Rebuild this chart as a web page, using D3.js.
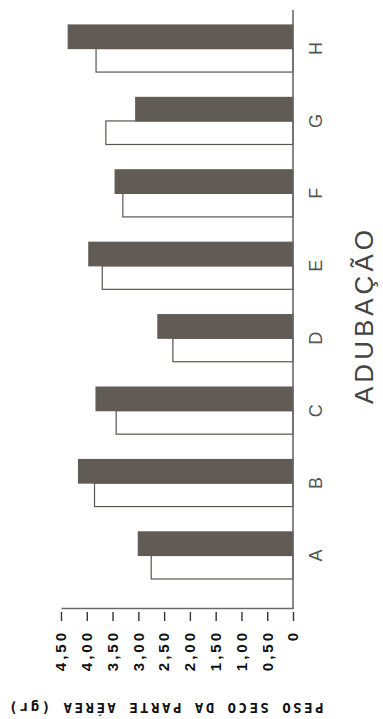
<!DOCTYPE html>
<html>
<head>
<meta charset="utf-8">
<script src="https://cdn.jsdelivr.net/npm/d3@7"></script>
<style>
  body { margin: 0; background: #fff; }
  svg { display: block; }
</style>
</head>
<body>
<div id="chart"></div>
<script>
const categorias = ["A", "B", "C", "D", "E", "F", "G", "H"];
const series = ["branco", "escuro"];
const branco = [2.75, 3.85, 3.43, 2.33, 3.70, 3.30, 3.63, 3.82];
const escuro = [3.00, 4.16, 3.82, 2.62, 3.96, 3.45, 3.05, 4.36];
const valorTicks = [0, 0.5, 1, 1.5, 2, 2.5, 3, 3.5, 4, 4.5];

const W = 383, H = 719;

const svg = d3.select("#chart").append("svg")
    .attr("width", W)
    .attr("height", H);

// the figure is an ordinary column chart turned a quarter round
const g = svg.append("g")
    .attr("transform", `translate(0,${H}) rotate(-90)`);

const x = d3.scaleBand()
    .domain(categorias)
    .range([140, 694])
    .paddingInner(0.35)
    .paddingOuter(0);

const xSub = d3.scaleBand()
    .domain(series)
    .range([0, x.bandwidth()]);

const y = d3.scaleLinear()
    .domain([0, 4.5])
    .range([293, 61]);

const rows = categorias.map((c, i) => ({ cat: c, branco: branco[i], escuro: escuro[i] }));

// bars
const grp = g.selectAll(".grp")
    .data(rows)
    .enter().append("g")
    .attr("class", "grp")
    .attr("transform", d => `translate(${x(d.cat)},0)`);

grp.selectAll("rect")
    .data(d => series.map(s => ({ s: s, v: d[s] })))
    .enter().append("rect")
    .attr("x", d => xSub(d.s))
    .attr("width", xSub.bandwidth())
    .attr("y", d => y(d.v))
    .attr("height", d => y(0) - y(d.v))
    .attr("fill", d => d.s === "escuro" ? "#605b55" : "#fff")
    .attr("stroke", d => d.s === "escuro" ? "#605b55" : "#5a5550")
    .attr("stroke-width", 1.2);

// category axis
g.append("line")
    .attr("x1", 110).attr("x2", 709)
    .attr("y1", y(0)).attr("y2", y(0))
    .attr("stroke", "#6a6a6a")
    .attr("stroke-width", 1.6);

const xAxis = g.append("g")
    .attr("transform", `translate(0,${y(0)})`)
    .call(d3.axisBottom(x).tickSize(0).tickPadding(16));
xAxis.select(".domain").remove();
xAxis.selectAll("text")
    .attr("font-family", "'Liberation Sans', Arial, sans-serif")
    .attr("font-size", 18)
    .attr("fill", "#555");

// value axis
const yAxis = g.append("g")
    .attr("transform", "translate(110,0)")
    .call(d3.axisLeft(y)
        .tickValues(valorTicks)
        .tickSize(12)
        .tickSizeOuter(0)
        .tickPadding(9)
        .tickFormat(d => d === 0 ? "0" : d.toFixed(2).replace(".", ",")));
yAxis.select(".domain")
    .attr("stroke", "#6a6a6a")
    .attr("stroke-width", 1.6);
yAxis.selectAll(".tick line")
    .attr("stroke", "#333")
    .attr("stroke-width", 1.4)
    .attr("stroke-dasharray", "0,3,9");
yAxis.selectAll("text")
    .attr("font-family", "'Liberation Sans', Arial, sans-serif")
    .attr("font-weight", "bold")
    .attr("font-size", 15)
    .attr("letter-spacing", 3)
    .attr("fill", "#111");

// titles
g.append("text")
    .attr("transform", `translate(16,${(5 + 325) / 2}) rotate(-90)`)
    .attr("text-anchor", "middle")
    .attr("font-family", "'DejaVu Sans Mono', monospace")
    .attr("font-weight", "bold")
    .attr("font-size", 14)
    .attr("letter-spacing", 2.5)
    .attr("fill", "#111")
    .text("PESO SECO DA PARTE AÉREA (gr)");

g.append("text")
    .attr("x", 404)
    .attr("y", 373)
    .attr("text-anchor", "middle")
    .attr("font-family", "'Liberation Sans', Arial, sans-serif")
    .attr("font-size", 26)
    .attr("letter-spacing", 4)
    .attr("fill", "#444")
    .text("ADUBAÇÃO");
</script>
</body>
</html>
